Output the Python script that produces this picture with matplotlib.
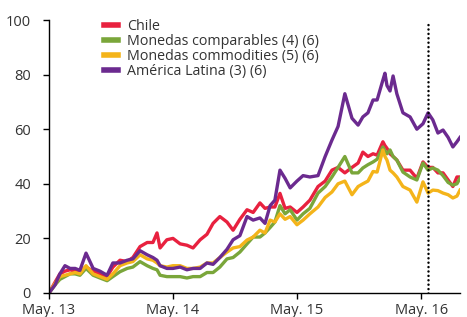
import matplotlib
matplotlib.use("Agg")
import matplotlib.pyplot as plt
import pandas as pd

plt.rcParams['font.family'] = ['Open Sans', 'DejaVu Sans']

dates = ["2013-05-01", "2013-05-19", "2013-06-02", "2013-06-17", "2013-07-02", "2013-07-17",
         "2013-07-31", "2013-08-18", "2013-09-08", "2013-09-28", "2013-10-19", "2013-11-05",
         "2013-11-26", "2013-12-17", "2014-01-03", "2014-01-24", "2014-02-14", "2014-03-03",
         "2014-03-15", "2014-03-24", "2014-04-13", "2014-05-01", "2014-05-22", "2014-06-11",
         "2014-06-29", "2014-07-20", "2014-08-09", "2014-08-27", "2014-09-16", "2014-10-07",
         "2014-10-25", "2014-11-14", "2014-12-05", "2014-12-23", "2015-01-12", "2015-01-27",
         "2015-02-11", "2015-02-25", "2015-03-12", "2015-03-27", "2015-04-11", "2015-05-01",
         "2015-05-19", "2015-06-08", "2015-07-02", "2015-07-23", "2015-08-12", "2015-08-30",
         "2015-09-19", "2015-10-10", "2015-10-28", "2015-11-11", "2015-11-26", "2015-12-11",
         "2015-12-23", "2016-01-09", "2016-01-15", "2016-01-21", "2016-01-30", "2016-02-08",
         "2016-02-19", "2016-03-08", "2016-03-29", "2016-04-18", "2016-05-06", "2016-05-21",
         "2016-06-04", "2016-06-19", "2016-07-04", "2016-07-19", "2016-08-02", "2016-08-14",
         "2016-08-23"]

chile = [0, 4, 7, 8, 8.5, 8, 8, 9.5, 8, 7, 6, 9.5, 12, 11.5, 13, 17, 18.5, 18.5, 22, 16.5,
         19.5, 20, 18, 17.5, 16.5, 19.5, 21.5, 25.5, 28, 26, 23, 27, 30.5, 29.5, 33, 31,
         31.5, 31.5, 36.5, 31, 31.5, 29.5, 31.5, 34, 39, 41, 45, 46, 44, 46, 47.6, 51.6,
         50, 51, 50.5, 55.4, 54, 53, 51, 50, 48.7, 45, 45, 42, 48, 46, 46, 44, 44, 41.4,
         39, 42.5, 42.5]

comparables = [0, 3, 5, 6, 7, 7, 6.5, 9, 6.5, 5.5, 4.5, 6, 7.8, 9, 9.5, 11.5, 10, 9, 8.5,
               6.5, 6, 6, 6, 5.5, 6, 6, 7.5, 7.5, 9.5, 12.5, 13, 15, 18, 20.5, 20.5, 22,
               24, 26, 32, 29, 30.5, 26.7, 29, 31, 36.6, 39, 42.5, 46, 50, 44, 44, 45.8,
               47, 48, 49, 53.5, 52, 51, 52.4, 50, 48.7, 44.3, 42.5, 41.4, 47.6, 45, 45.8,
               45, 43, 40.5, 39.5, 40, 42]

commodities = [0, 3.5, 6, 6.5, 7, 7.5, 7, 10, 7, 6, 5, 7, 10, 11, 11.5, 14, 12.5, 12, 11,
               10, 9.5, 10, 10, 9, 9, 9.5, 11, 11, 13, 15, 16.5, 17, 19.4, 20.5, 23, 22,
               26.7, 26, 29, 27, 28, 25, 26.7, 29, 31.5, 35, 37, 40, 41, 36, 39, 40, 41,
               44.5, 44.3, 52.4, 50, 48.7, 45, 44, 42.5, 39, 37.7, 33.3, 40.7, 36.6, 37.7,
               37.5, 36.6, 36, 34.8, 35.5, 37.7]

latam = [0, 3, 7, 10, 9, 9, 8.3, 14.6, 9, 8, 6.5, 11, 11, 12, 12.5, 15.5, 14, 13, 12, 10,
         9, 9, 9.5, 8.5, 9, 9, 11, 10.5, 13, 16, 19.5, 21, 28, 26.7, 27.5, 25.5, 32, 34,
         45, 42, 38.5, 41, 43, 42.5, 43, 50, 56, 61, 73, 64, 61.5, 64.5, 66, 70.7, 70.7,
         78, 80.5, 76, 74, 79.5, 73, 66, 64.5, 60, 62, 66, 63.4, 58.6, 59.7, 57, 53.5,
         55.4, 57]

series_names = ["Chile", "Monedas comparables (4) (6)", "Monedas commodities (5) (6)",
                "América Latina (3) (6)"]
series_colors = ["#E8213F", "#7AA63A", "#F4B41A", "#6B2A8F"]
tick_dates = ["2013-05-01", "2014-05-01", "2015-05-01", "2016-05-01"]
tick_labels = ["May. 13", "May. 14", "May. 15", "May. 16"]
vline_date = "2016-05-22"
yticks = [0, 20, 40, 60, 80, 100]

d = pd.to_datetime(dates)
fig = plt.figure(figsize=(4.67, 3.17), dpi=100)
ax = fig.add_axes([49 / 467, 24 / 317, 411 / 467, 273 / 317])

for vals, name, col in zip([chile, comparables, commodities, latam], series_names, series_colors):
    ax.plot(d, vals, color=col, lw=2.4, label=name, solid_joinstyle='round')

ax.plot([pd.Timestamp(vline_date)] * 2, [0, 99], color='black', lw=1.8,
        linestyle=(0, (0.01, 1.75)), dash_capstyle='round')

ax.set_ylim(0, 100)
ax.set_xlim(pd.Timestamp("2013-05-01"), pd.Timestamp("2016-08-23"))
ax.set_yticks(yticks)
ax.set_xticks(pd.to_datetime(tick_dates))
ax.set_xticklabels(tick_labels)
for s in ['top', 'right']:
    ax.spines[s].set_visible(False)
for s in ['left', 'bottom']:
    ax.spines[s].set_linewidth(1.0)
ax.tick_params(axis='y', length=4, width=1, pad=9, labelsize=10.5)
ax.tick_params(axis='x', length=4, width=1, pad=3, labelsize=10.5)
for lab in ax.get_xticklabels() + ax.get_yticklabels():
    lab.set_color('#333333')

leg = ax.legend(loc='upper left', bbox_to_anchor=((104 - 49) / 411, 1.005), frameon=False,
                fontsize=10.3, handlelength=1.0, handletextpad=0.6, labelspacing=0.0,
                borderaxespad=0, borderpad=0)
for h in leg.legend_handles:
    h.set_linewidth(4)
for t in leg.get_texts():
    t.set_color('#333333')

fig.savefig("out.png", dpi=100)
